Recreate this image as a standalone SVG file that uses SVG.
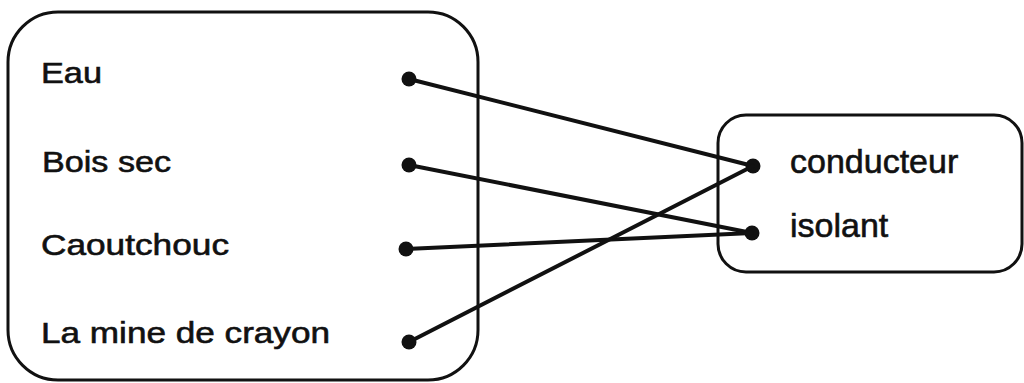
<svg xmlns="http://www.w3.org/2000/svg" width="1024" height="383" viewBox="0 0 1024 383">
<style>
.box{fill:none;stroke:#111;stroke-width:3}
.lbl{font-family:"Liberation Sans",Arial,sans-serif;fill:#111;stroke:#111;stroke-width:0.6}
.l{font-size:30px}
.r{font-size:34px}
.dot{fill:#111}
.conn line{stroke:#111;stroke-width:4;stroke-linecap:round}
</style>
<rect width="1024" height="383" fill="#fff"/>
<g id="left-box">
<rect class="box" x="8" y="12" width="470" height="368" rx="50" ry="50"/>
</g>
<g id="node-eau">
<text class="lbl l" x="41" y="83" textLength="61" lengthAdjust="spacingAndGlyphs">Eau</text>
<circle class="dot" cx="409" cy="79" r="7.5"/>
</g>
<g id="node-bois">
<text class="lbl l" x="42" y="172" textLength="129" lengthAdjust="spacingAndGlyphs">Bois sec</text>
<circle class="dot" cx="409" cy="165" r="7.5"/>
</g>
<g id="node-caoutchouc">
<text class="lbl l" x="41" y="255" textLength="188" lengthAdjust="spacingAndGlyphs">Caoutchouc</text>
<circle class="dot" cx="406" cy="249" r="7.5"/>
</g>
<g id="node-mine">
<text class="lbl l" x="41" y="343" textLength="289" lengthAdjust="spacingAndGlyphs">La mine de crayon</text>
<circle class="dot" cx="409" cy="342" r="7.5"/>
</g>
<g id="right-box">
<rect class="box" x="718" y="115" width="304" height="157" rx="28" ry="28"/>
</g>
<g id="node-conducteur">
<text class="lbl r" x="790" y="173">conducteur</text>
<circle class="dot" cx="753" cy="166" r="7.5"/>
</g>
<g id="node-isolant">
<text class="lbl r" x="790" y="237">isolant</text>
<circle class="dot" cx="752" cy="233" r="7.5"/>
</g>
<g id="connectors" class="conn">
<line x1="409" y1="79" x2="753" y2="166"/>
<line x1="409" y1="165" x2="752" y2="233"/>
<line x1="406" y1="249" x2="752" y2="233"/>
<line x1="409" y1="342" x2="753" y2="166"/>
</g>
</svg>
